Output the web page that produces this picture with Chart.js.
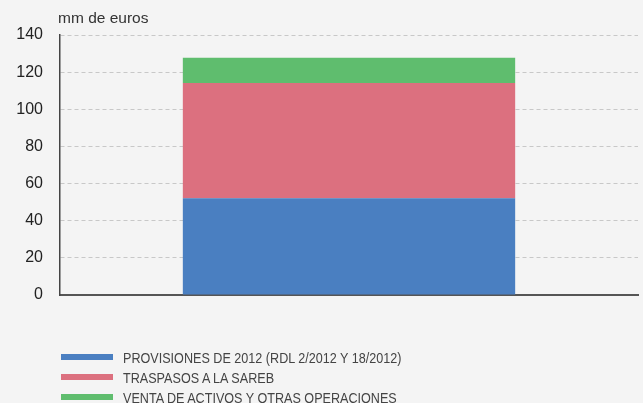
<!DOCTYPE html>
<html><head><meta charset="utf-8">
<script src="https://cdn.jsdelivr.net/npm/chart.js@4"></script>
<style>
html,body{margin:0;padding:0;background:#f4f4f4;}
#wrap{position:relative;width:643px;height:403px;overflow:hidden;}
#c{position:absolute;left:0;top:0;}
#unit{position:absolute;left:58px;top:9px;font:15.5px "Liberation Sans",Arial,sans-serif;color:#333;}
#legend{position:absolute;left:61px;top:347px;font:15px "Liberation Sans",Arial,sans-serif;color:#444;}
.row{height:20px;display:flex;align-items:center;white-space:nowrap;}
.sw{width:52px;height:6px;margin-right:10px;flex:none;}
.row span{display:inline-block;transform:scaleX(0.84);transform-origin:left center;}
</style></head>
<body><div id="wrap"><canvas id="c" width="643" height="403"></canvas><div id="unit">mm de euros</div><div id="legend"></div></div>
<script>
const categories = ["2012"];
const seriesNames = ["PROVISIONES DE 2012 (RDL 2/2012 Y 18/2012)", "TRASPASOS A LA SAREB", "VENTA DE ACTIVOS Y OTRAS OPERACIONES"];
const provisiones = [52.1];
const traspasos = [62.0];
const venta = [13.6];
const yTicks = [0, 20, 40, 60, 80, 100, 120, 140];
const colors = ["#4a7fc1", "#dc707f", "#5fbd6e"];

const series = [provisiones, traspasos, venta];
const datasets = series.map((d, i) => ({
  label: seriesNames[i], data: d, backgroundColor: colors[i], borderWidth: 0,
  categoryPercentage: 1, barPercentage: 0.575
}));

const leg = document.getElementById('legend');
datasets.forEach(ds => {
  const r = document.createElement('div'); r.className = 'row';
  const s = document.createElement('div'); s.className = 'sw'; s.style.background = ds.backgroundColor;
  const t = document.createElement('span'); t.textContent = ds.label;
  r.appendChild(s); r.appendChild(t); leg.appendChild(r);
});

new Chart(document.getElementById('c'), {
  type: 'bar',
  data: { labels: categories, datasets },
  options: {
    responsive: false, animation: false,
    layout: { padding: { top: 35, right: 5, bottom: 108, left: 0 } },
    plugins: { legend: { display: false }, tooltip: { enabled: false } },
    scales: {
      x: {
        stacked: true,
        ticks: { display: false },
        grid: { display: false },
        border: { display: true, color: '#555', width: 2 },
        afterFit: s => { s.height = 0; }
      },
      y: {
        stacked: true, min: 0, max: 140,
        afterBuildTicks: s => { s.ticks = yTicks.map(v => ({ value: v })); },
        afterFit: s => { s.width = 60; },
        ticks: { padding: 17, color: '#222', font: { family: '"Liberation Sans", Arial, sans-serif', size: 16 } },
        grid: { color: '#c8c8c8', drawTicks: false, lineWidth: 1 },
        border: { display: true, color: '#444', width: 1.5, dash: [4, 3] }
      }
    }
  }
});
</script></body></html>
